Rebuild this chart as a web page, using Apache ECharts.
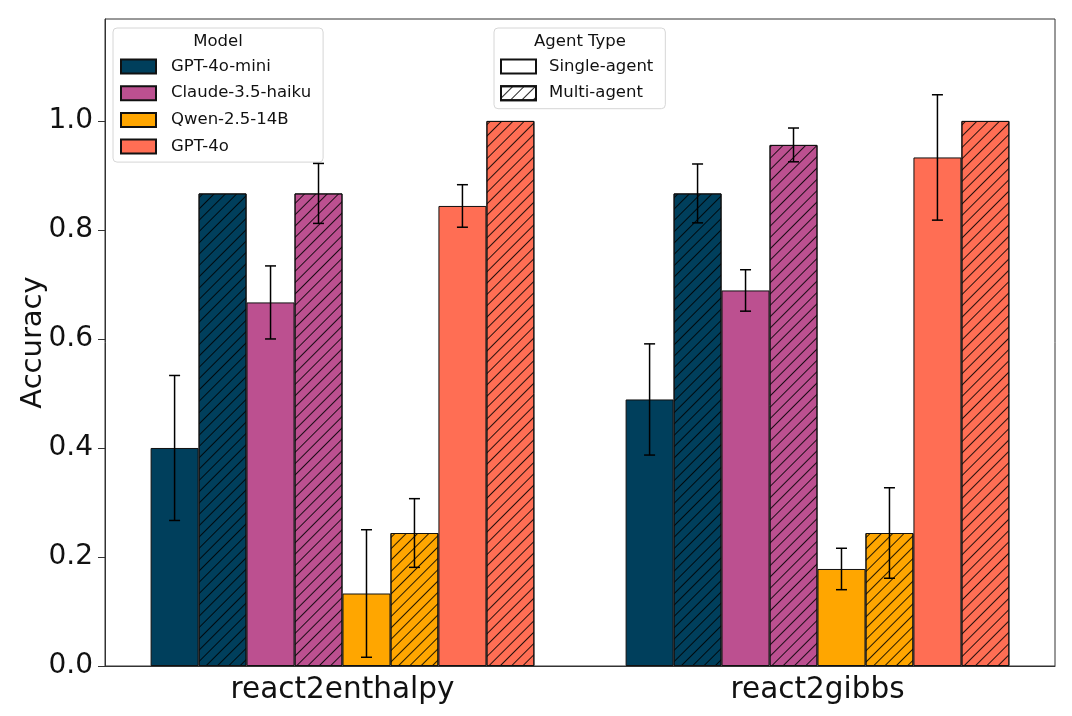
<!DOCTYPE html>
<html>
<head>
    <meta charset="utf-8">
    <title>Accuracy by model and agent type</title>
    <script src="https://cdn.jsdelivr.net/npm/echarts@6/dist/echarts.min.js"></script>
    <style>
        html, body { margin: 0; padding: 0; background: #fff; }
        #main-chart { width: 1072px; height: 716px; }
    </style>
</head>
<body>
<div id="main-chart"></div>

<script>
    // data
    var categories = ['react2enthalpy', 'react2gibbs'];
    var models = ['GPT-4o-mini', 'Claude-3.5-haiku', 'Qwen-2.5-14B', 'GPT-4o'];
    var modelColors = ['#003f5c', '#bc5090', '#ffa600', '#ff6e54'];
    // one row per model, one column per category
    var singleAcc = [[0.400, 0.489], [0.667, 0.689], [0.133, 0.178], [0.844, 0.933]];
    var singleErr = [[0.133, 0.102], [0.067, 0.038], [0.117, 0.038], [0.039, 0.115]];
    var multiAcc  = [[0.867, 0.867], [0.867, 0.956], [0.244, 0.244], [1.000, 1.000]];
    var multiErr  = [[0.000, 0.054], [0.055, 0.031], [0.063, 0.083], [0.000, 0.000]];
    var yTicks = [0, 0.2, 0.4, 0.6, 0.8, 1.0];

    var FONT = 'DejaVu Sans';
    var BAR_FRAC = 0.101;   // each bar as fraction of the category band
    var hatch = {
        symbol: 'rect',
        symbolSize: 1,
        dashArrayX: [1, 0],
        dashArrayY: [1, 6.8],
        rotation: -Math.PI / 4,
        color: 'rgba(0,0,0,0.85)'
    };

    var chart = echarts.init(document.getElementById('main-chart'));

    var series = [];
    var errData = [];
    models.forEach(function (m, i) {
        series.push({
            name: m,
            type: 'bar',
            barWidth: (BAR_FRAC * 100) + '%',
            barGap: '0%',
            data: singleAcc[i],
            itemStyle: { color: modelColors[i], borderColor: '#111', borderWidth: 1 }
        });
        series.push({
            name: m + ' (Multi-agent)',
            type: 'bar',
            barWidth: (BAR_FRAC * 100) + '%',
            barGap: '0%',
            data: multiAcc[i],
            itemStyle: { color: modelColors[i], borderColor: '#111', borderWidth: 1, decal: hatch }
        });
        categories.forEach(function (c, j) {
            if (singleErr[i][j] > 0) errData.push([j, i * 2, singleAcc[i][j], singleErr[i][j]]);
            if (multiErr[i][j] > 0) errData.push([j, i * 2 + 1, multiAcc[i][j], multiErr[i][j]]);
        });
    });

    // error bars
    series.push({
        type: 'custom',
        name: 'err',
        z: 10,
        data: errData,
        encode: { x: 0, y: 2 },
        renderItem: function (params, api) {
            var cat = api.value(0), slot = api.value(1), v = api.value(2), e = api.value(3);
            var band = api.size([1, 0])[0];
            var w = band * BAR_FRAC;
            var cx = api.coord([cat, v])[0] + (slot - 3.5) * w;
            var yTop = api.coord([cat, v + e])[1];
            var yBot = api.coord([cat, v - e])[1];
            var st = { stroke: '#000', lineWidth: 1.5 };
            return {
                type: 'group',
                children: [
                    { type: 'line', shape: { x1: cx, y1: yTop, x2: cx, y2: yBot }, style: st },
                    { type: 'line', shape: { x1: cx - 5.5, y1: yTop, x2: cx + 5.5, y2: yTop }, style: st },
                    { type: 'line', shape: { x1: cx - 5.5, y1: yBot, x2: cx + 5.5, y2: yBot }, style: st }
                ]
            };
        }
    });

    // legend-only entries for agent type
    series.push({
        name: 'Single-agent', type: 'bar', xAxisIndex: 1, data: [],
        itemStyle: { color: '#fff', borderColor: '#111', borderWidth: 1 }
    });
    series.push({
        name: 'Multi-agent', type: 'bar', xAxisIndex: 1, data: [],
        itemStyle: { color: '#fff', borderColor: '#111', borderWidth: 1, decal: hatch }
    });

    var legendBase = {
        orient: 'vertical',
        icon: 'rect',
        itemWidth: 35,
        itemHeight: 14,
        itemGap: 9.7,
        selectedMode: false,
        backgroundColor: 'rgba(255,255,255,0.85)',
        borderColor: '#d6d6d6',
        borderWidth: 1,
        borderRadius: 4,
        textStyle: { fontFamily: FONT, fontSize: 16.5, color: '#111', padding: [0, 0, 0, 10] }
    };

    var option = {
        animation: false,
        grid: {
            left: 105, right: 17, top: 19, bottom: 50,
            show: true, borderColor: '#333', borderWidth: 1
        },
        legend: [
            Object.assign({}, legendBase, {
                data: models,
                left: 113, top: 28,
                padding: [30, 12, 7, 7]
            }),
            Object.assign({}, legendBase, {
                data: ['Single-agent', 'Multi-agent'],
                left: 494, top: 28,
                padding: [30, 12, 7, 6],
                textStyle: Object.assign({}, legendBase.textStyle, { padding: [0, 0, 0, 8] })
            })
        ],
        graphic: [
            { type: 'text', x: 218, y: 42, z: 100,
              style: { text: 'Model', align: 'center', verticalAlign: 'middle', fontFamily: FONT, fontSize: 16.5, fill: '#111' } },
            { type: 'text', x: 580, y: 42, z: 100,
              style: { text: 'Agent Type', align: 'center', verticalAlign: 'middle', fontFamily: FONT, fontSize: 16.5, fill: '#111' } }
        ],
        xAxis: [
            {
                type: 'category',
                data: categories,
                axisLine: { lineStyle: { color: '#333', width: 1 } },
                axisTick: { alignWithLabel: true, length: 6, lineStyle: { color: '#333' } },
                axisLabel: { fontFamily: FONT, fontSize: 29.5, color: '#111', margin: 9 }
            },
            { type: 'category', data: [], show: false }
        ],
        yAxis: {
            type: 'value',
            min: 0,
            max: 1.187,
            interval: 0.2,
            name: 'Accuracy',
            nameLocation: 'middle',
            nameGap: 57,
            nameMoveOverlap: false,
            nameTextStyle: { fontFamily: FONT, fontSize: 29, color: '#111' },
            axisLine: { show: true, lineStyle: { color: '#333', width: 1 } },
            axisTick: { show: true, length: 7, lineStyle: { color: '#333' } },
            splitLine: { show: false },
            axisLabel: {
                fontFamily: FONT, fontSize: 28, color: '#111', margin: 12,
                showMaxLabel: false,
                formatter: function (v) {
                    return yTicks.indexOf(Math.round(v * 10) / 10) >= 0 ? v.toFixed(1) : '';
                }
            }
        },
        series: series
    };

    chart.setOption(option);
</script>
</body>
</html>
